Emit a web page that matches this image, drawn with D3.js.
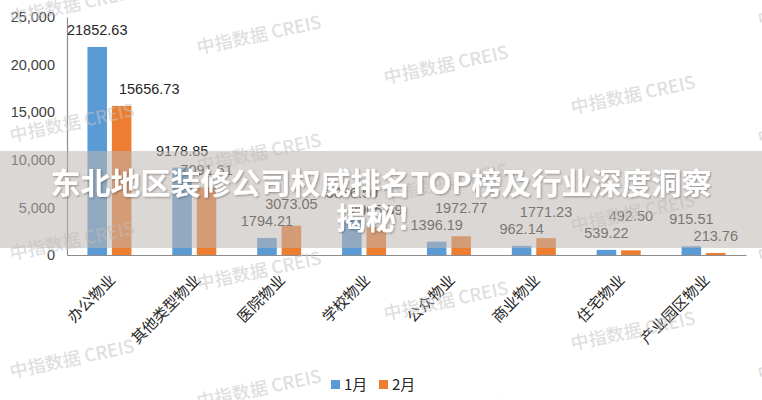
<!DOCTYPE html>
<html>
<head>
<meta charset="utf-8">
<script src="https://cdn.jsdelivr.net/npm/d3@7"></script>
<style>
  html, body { margin: 0; padding: 0; background: #fff; }
  svg { display: block; }
</style>
</head>
<body>
<svg id="chart" width="762" height="400"></svg>
<script>
const categories = ["办公物业", "其他类型物业", "医院物业", "学校物业", "公众物业", "商业物业", "住宅物业", "产业园区物业"];
const seriesNames = ["1月", "2月"];
const valuesJan = [21852.63, 9178.85, 1794.21, 3886.50, 1396.19, 962.14, 539.22, 915.51];
const valuesFeb = [15656.73, 7091.61, 3073.05, 2905.89, 1972.77, 1771.23, 492.50, 213.76];
const yTickValues = [0, 5000, 10000, 15000, 20000, 25000];
const titleLines = ["东北地区装修公司权威排名TOP榜及行业深度洞察", "揭秘！"];
const watermarkText = "中指数据 CREIS";

const colors = ["#5B9BD5", "#ED7D31"];
const W = 762, H = 400;
const plot = { left: 67, right: 746, top: 17, bottom: 255 };
const numFont = "'Liberation Sans', Arial, sans-serif";
const cjkFont = "'Noto Sans CJK SC', 'Noto Sans', sans-serif";

const svg = d3.select("#chart");

const x0 = d3.scaleBand().domain(categories).range([plot.left, plot.right]).padding(0);
const groupW = 44;
const x1 = d3.scaleBand().domain(seriesNames).range([0, groupW]).paddingInner(0.2);
const y = d3.scaleLinear().domain([0, 25000]).range([plot.bottom, plot.top]);

const rows = categories.map((c, i) => ({ cat: c, vals: [valuesJan[i], valuesFeb[i]] }));
const barX = (cat, s) => x0(cat) + (x0.bandwidth() - groupW) / 2 + x1(s);

const chart = svg.append("g");

// Y axis
const yAxis = chart.append("g")
  .attr("transform", `translate(${plot.left},0)`)
  .call(d3.axisLeft(y).tickValues(yTickValues).tickSize(0).tickSizeOuter(0).tickPadding(12).tickFormat(d3.format(",")));
yAxis.select(".domain").attr("stroke", "#8c8c8c").attr("stroke-width", 1.2);
yAxis.selectAll("text").attr("font-family", numFont).attr("font-size", "14.5px").attr("fill", "#404040");

// Bars
const grp = chart.append("g").selectAll("g").data(rows).join("g");
grp.selectAll("rect")
  .data(d => d.vals.map((v, k) => ({ cat: d.cat, s: seriesNames[k], v, k })))
  .join("rect")
  .attr("x", d => barX(d.cat, d.s))
  .attr("width", x1.bandwidth())
  .attr("y", d => y(d.v))
  .attr("height", d => y(0) - y(d.v))
  .attr("fill", d => colors[d.k]);

// X axis
const xAxis = chart.append("g")
  .attr("transform", `translate(0,${plot.bottom})`)
  .call(d3.axisBottom(x0).tickSize(0).tickSizeOuter(0));
xAxis.select(".domain").attr("stroke", "#8c8c8c").attr("stroke-width", 1.2);
xAxis.selectAll(".tick text")
  .attr("x", 0).attr("y", 0).attr("dy", 0)
  .attr("transform", "translate(7,26) rotate(-45)")
  .style("text-anchor", "end")
  .attr("font-family", cjkFont)
  .attr("font-size", "15px")
  .attr("fill", "#262626");

// Data labels with simple overlap handling
const labelLayer = chart.append("g")
  .attr("font-family", numFont).attr("font-size", "14.5px").attr("fill", "#262626")
  .attr("text-anchor", "middle");
rows.forEach(r => {
  const cx = seriesNames.map(s => barX(r.cat, s) + x1.bandwidth() / 2);
  const tops = r.vals.map(v => y(v));
  const fmt = v => v.toFixed(2);
  const t = r.vals.map((v, k) => labelLayer.append("text").text(fmt(v)).attr("x", cx[k]));
  const w = t.map(n => n.node().getComputedTextLength());
  let by = tops.map(tp => tp - 12);
  let lx = cx.slice();
  const labelH = 11;
  // feb label fully beside the jan bar -> move it right
  if (tops[0] < by[1] - labelH) {
    lx[1] = barX(r.cat, seriesNames[0]) + x1.bandwidth() + 12 + w[1] / 2;
  }
  const hOverlap = Math.abs(lx[0] - lx[1]) < (w[0] + w[1]) / 2;
  if (hOverlap && Math.abs(by[0] - by[1]) < 16) {
    if (tops[1] > tops[0] + 5) by[0] = by[1] - 17;
    else by[1] = by[0] - 17;
  }
  t.forEach((n, k) => n.attr("x", lx[k]).attr("y", by[k]));
});

// Legend
const legend = chart.append("g").attr("transform", "translate(331,380)");
const li = legend.selectAll("g").data(seriesNames).join("g")
  .attr("transform", (d, i) => `translate(${i * 48},0)`);
li.append("rect").attr("width", 9).attr("height", 9).attr("fill", (d, i) => colors[i]);
li.append("text").attr("x", 13).attr("y", 9.5).text(d => d)
  .attr("font-family", cjkFont).attr("font-size", "15px").attr("fill", "#262626");

// Watermarks
const wm = svg.append("g").attr("fill", "#c4c4c4").attr("fill-opacity", 0.55)
  .attr("font-family", cjkFont).attr("font-size", "18px").attr("font-weight", 500)
  .attr("text-anchor", "middle");
for (let i = 0; i < 5; i++) {
  for (let j = -1; j < 5; j++) {
    const cx = 72 + 187 * i;
    const cy = 5 + 30 * i + 118 * j;
    if (cy < -30 || cy > 430) continue;
    wm.append("text").attr("transform", `translate(${cx},${cy}) rotate(-12)`)
      .attr("dy", "0.35em").text(watermarkText);
  }
}

// Banner
svg.append("rect").attr("x", 0).attr("y", 151).attr("width", W).attr("height", 97)
  .attr("fill", "rgb(190,182,176)").attr("fill-opacity", 0.55);

const defs = svg.append("defs");
const f = defs.append("filter").attr("id", "sh").attr("x", "-5%").attr("y", "-20%").attr("width", "110%").attr("height", "140%");
f.append("feDropShadow").attr("dx", 1).attr("dy", 1).attr("stdDeviation", 1.2)
  .attr("flood-color", "#000").attr("flood-opacity", 0.35);

svg.append("g").attr("filter", "url(#sh)")
  .selectAll("text").data(titleLines).join("text")
  .attr("x", W / 2).attr("y", (d, i) => 194 + i * 35)
  .attr("text-anchor", "middle")
  .attr("font-family", cjkFont).attr("font-weight", 700).attr("font-size", "30px")
  .attr("fill", "#fff")
  .text(d => d);
</script>
</body>
</html>
